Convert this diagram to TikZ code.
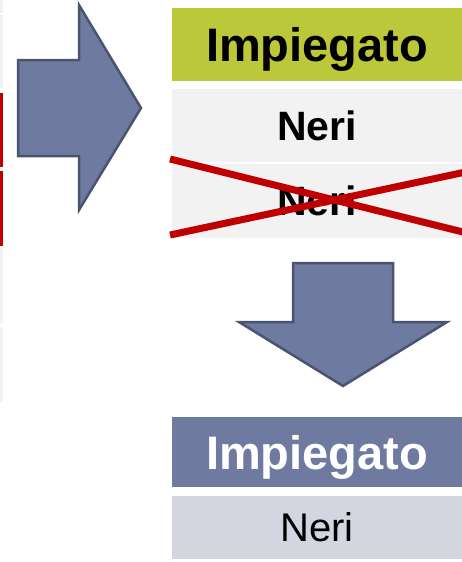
\documentclass[tikz,border=0pt]{standalone}
\usepackage{fontspec}
\setmainfont{Liberation Sans}
\definecolor{headgreen}{RGB}{189,199,58}
\definecolor{rowgrey}{RGB}{242,242,242}
\definecolor{rowblue}{RGB}{211,214,224}
\definecolor{arrowfill}{RGB}{111,122,160}
\definecolor{arrowline}{RGB}{74,84,112}
\definecolor{crossred}{RGB}{192,0,0}
\begin{document}
\begin{tikzpicture}
[x=1pt,y=-1pt,
  celldecorate/.style={inner sep=0pt,minimum width=290pt,text depth=0pt},%
  arrowdecorate/.style={fill=arrowfill,draw=arrowline,line width=2.5pt,line join=miter},%
  crossdecorate/.style={crossred,line width=7pt}]
\useasboundingbox (0,0) rectangle (462,562);
%% edge of the table on the left
\foreach \y/\h/\c in {0/13/rowgrey, 15/73/rowgrey, 93/74/crossred,
  171/75/crossred, 248/75/rowgrey, 327/75/rowgrey} {
  \fill[\c] (0,\y) rectangle (3,\y+\h);
}
%% arrow to the right
\draw[arrowdecorate] (18,60) -- (79,60) -- (79,5) -- (141,108) -- (79,210)
  -- (79,156) -- (18,156) -- cycle;
%% first table
\node (hdrA) at (317,44.5) [celldecorate,minimum height=73pt,fill=headgreen]
  {\fontsize{47}{50}\selectfont\bfseries Impiegato};
\node (rowA) at (317,125.5) [celldecorate,minimum height=73pt,fill=rowgrey]
  {\fontsize{41}{44}\selectfont\bfseries Neri};
\node (rowB) at (317,201) [celldecorate,minimum height=74pt,fill=rowgrey]
  {\fontsize{41}{44}\selectfont\bfseries Neri};
%% the cross over the second row
\draw[crossdecorate] (170,159) -- (475,235);
\draw[crossdecorate] (170,235) -- (475,170);
%% arrow downwards
\draw[arrowdecorate] (293,263) -- (393,263) -- (393,322) -- (447,322) -- (343,386)
  -- (239,322) -- (293,322) -- cycle;
%% resulting table
\node (hdrB) at (317,452) [celldecorate,minimum height=70pt,fill=arrowfill,text=white]
  {\fontsize{47}{50}\selectfont\bfseries Impiegato};
\node (rowC) at (317,527.5) [celldecorate,minimum height=63pt,fill=rowblue]
  {\fontsize{40}{43}\selectfont Neri};
\end{tikzpicture}
\end{document}
